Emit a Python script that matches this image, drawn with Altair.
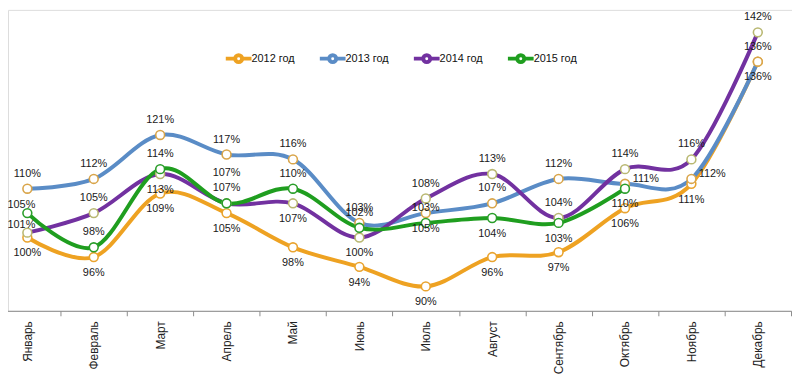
import altair as alt
import pandas as pd

months = ["Январь", "Февраль", "Март", "Апрель", "Май", "Июнь",
          "Июль", "Август", "Сентябрь", "Октябрь", "Ноябрь", "Декабрь"]

series = ["2012 год", "2013 год", "2014 год", "2015 год"]

v2012 = [100, 96, 109, 105, 98, 94, 90, 96, 97, 106, 111, 136]
v2013 = [110, 112, 121, 117, 116, 103, 105, 107, 112, 111, 112, 136]
v2014 = [101, 105, 113, 107, 107, 100, 108, 113, 104, 114, 116, 142]
v2015 = [105, 98, 114, 107, 110, 102, 103, 104, 103, 110]

# label placement: a = above, A = high above, b = below, r = right, l = upper left
p2012 = ["b"] * 12
p2013 = ["a", "a", "a", "a", "a", "a", "b", "a", "a", "r", "r", "a"]
p2014 = ["l", "a", "b", "A", "b", "b", "a", "a", "a", "a", "a", "a"]
p2015 = ["l", "a", "a", "a", "a", "a", "a", "b", "b", "b"]

line_colors = ["#EEA222", "#5A8CC6", "#7231A0", "#1F9E1F"]
marker_colors = ["#E9A430", "#D9A54A", "#B9B872", "#2A9E2A"]
line_widths = [4, 4, 4, 2.3]

rows = []
for s, vals, pos in zip(series, [v2012, v2013, v2014, v2015], [p2012, p2013, p2014, p2015]):
    for i, v in enumerate(vals):
        rows.append({"month": months[i], "series": s, "value": v,
                     "label": f"{v}%", "pos": pos[i], "idx": i})
df = pd.DataFrame(rows)

FONT = "Liberation Sans"

x = alt.X("month:N", sort=months,
          scale=alt.Scale(type="band", range=[-14, 791], paddingInner=0, paddingOuter=0),
          axis=alt.Axis(title=None, labelAngle=270, labelFontSize=12, labelFont=FONT,
                        labelColor="#222222", tickBand="extent", tickSize=5,
                        tickColor="#8c8c8c", domainColor="#8c8c8c", labelPadding=5,
                        grid=False))
y = alt.Y("value:Q", scale=alt.Scale(domain=[85, 146.6], nice=False, zero=False), axis=None)

base = alt.Chart(df)

lines = base.mark_line(interpolate="cardinal").encode(
    x=x, y=y,
    color=alt.Color("series:N", sort=series,
                    scale=alt.Scale(domain=series, range=line_colors),
                    legend=alt.Legend(title=None, orient="none", legendX=221, legendY=37,
                                      direction="horizontal", columns=4, columnPadding=17,
                                      symbolType="M-1.3,0H-0.35M0.35,0H1.3M-0.35,0a0.35,0.35 0 1,0 0.7,0a0.35,0.35 0 1,0 -0.7,0",
                                      symbolSize=400, symbolStrokeWidth=3,
                                      symbolFillColor="white", labelFont=FONT,
                                      labelFontSize=11, labelColor="#111111",
                                      labelOffset=1, padding=0)),
    strokeWidth=alt.StrokeWidth("series:N", scale=alt.Scale(domain=series, range=line_widths),
                                legend=None),
    order=alt.Order("idx:Q"),
)

points = base.mark_point(shape="circle", filled=False, fill="white", size=80,
                         strokeWidth=1.6, opacity=1).encode(
    x=x, y=y,
    stroke=alt.Stroke("series:N", scale=alt.Scale(domain=series, range=marker_colors),
                      legend=None),
)

txt_kw = dict(font=FONT, fontSize=11, color="#1a1a1a", baseline="middle")
offsets = {"a": (0, -15), "A": (0, -31), "b": (0, 16), "r": (21, -5), "l": (-6, -8)}
texts = [
    base.transform_filter(alt.datum.pos == k).mark_text(dx=dx, dy=dy, **txt_kw).encode(
        x=x, y=y, text="label:N")
    for k, (dx, dy) in offsets.items()
]

chart = alt.layer(lines, points, *texts).properties(
    width=792, height=304,
    autosize=alt.AutoSizeParams(type="none"),
    padding={"left": 0, "top": 0, "right": 0, "bottom": 70},
).configure_view(stroke=None).configure(background="white")

chart.save("out.html", embed_options={"renderer": "svg", "actions": False})
